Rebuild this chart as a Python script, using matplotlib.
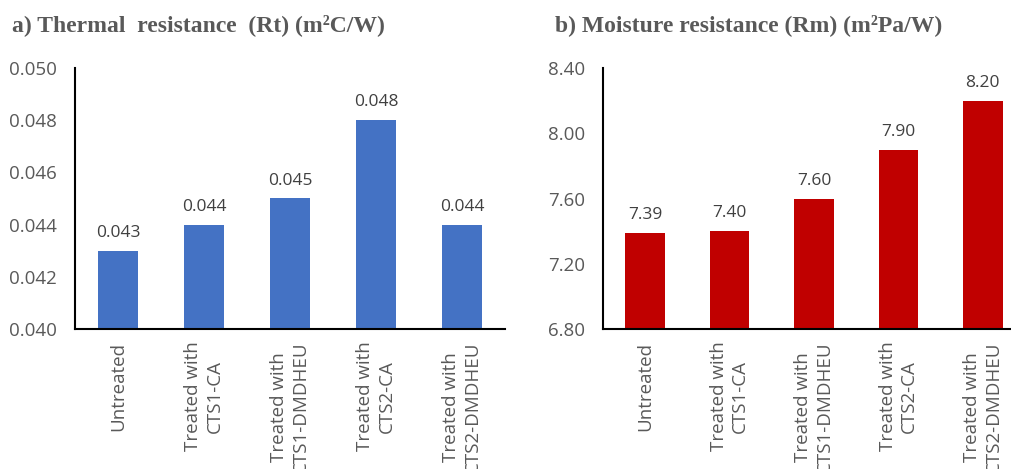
import matplotlib.pyplot as plt

categories = ['Untreated', 'Treated with\nCTS1-CA', 'Treated with\nCTS1-DMDHEU',
              'Treated with\nCTS2-CA', 'Treated with\nCTS2-DMDHEU']
thermal = [0.043, 0.044, 0.045, 0.048, 0.044]
moisture = [7.39, 7.40, 7.60, 7.90, 8.20]
thermal_ticks = [0.040, 0.042, 0.044, 0.046, 0.048, 0.050]
moisture_ticks = [6.80, 7.20, 7.60, 8.00, 8.40]

grey = '#595959'
plt.rcParams['font.family'] = ['Open Sans', 'DejaVu Sans']

fig = plt.figure(figsize=(10.11, 4.69), dpi=100)
W, H = 1011, 469
ax1 = fig.add_axes([75 / W, 140 / H, 430 / W, 261 / H])
ax2 = fig.add_axes([603 / W, 140 / H, 422 / W, 261 / H])


def draw(ax, vals, ticks, color, fmt, title, tx):
    x = range(len(vals))
    bars = ax.bar(x, vals, width=0.47, color=color, zorder=2)
    ax.set_ylim(ticks[0], ticks[-1])
    ax.set_xlim(-0.5, len(vals) - 0.5)
    ax.set_yticks(ticks)
    ax.set_yticklabels([fmt.format(t) for t in ticks], fontsize=13.5, color=grey)
    ax.set_xticks(list(x))
    ax.set_xticklabels(categories, rotation=90, fontsize=13.5, color=grey,
                       ha='center', va='top', multialignment='center',
                       linespacing=1.25)
    ax.tick_params(length=0, pad=9)
    ax.tick_params(axis='y', pad=13)
    for s in ['top', 'right']:
        ax.spines[s].set_visible(False)
    for s in ['left', 'bottom']:
        ax.spines[s].set_color('black')
        ax.spines[s].set_linewidth(1.5)
    labels = [fmt.format(v) for v in vals]
    ax.bar_label(bars, labels=labels, padding=7, fontsize=12.5, color='#404040')
    fig.text(tx / W, 1 - 25 / H, title, fontsize=17, fontweight='bold',
             family='Liberation Serif', color=grey, va='center', ha='left')


draw(ax1, thermal, thermal_ticks, '#4472C4', '{:.3f}',
     'a) Thermal  resistance  (Rt) (m²C/W)', 12)
draw(ax2, moisture, moisture_ticks, '#C00000', '{:.2f}',
     'b) Moisture resistance (Rm) (m²Pa/W)', 555)

fig.savefig('out.png', dpi=100)
